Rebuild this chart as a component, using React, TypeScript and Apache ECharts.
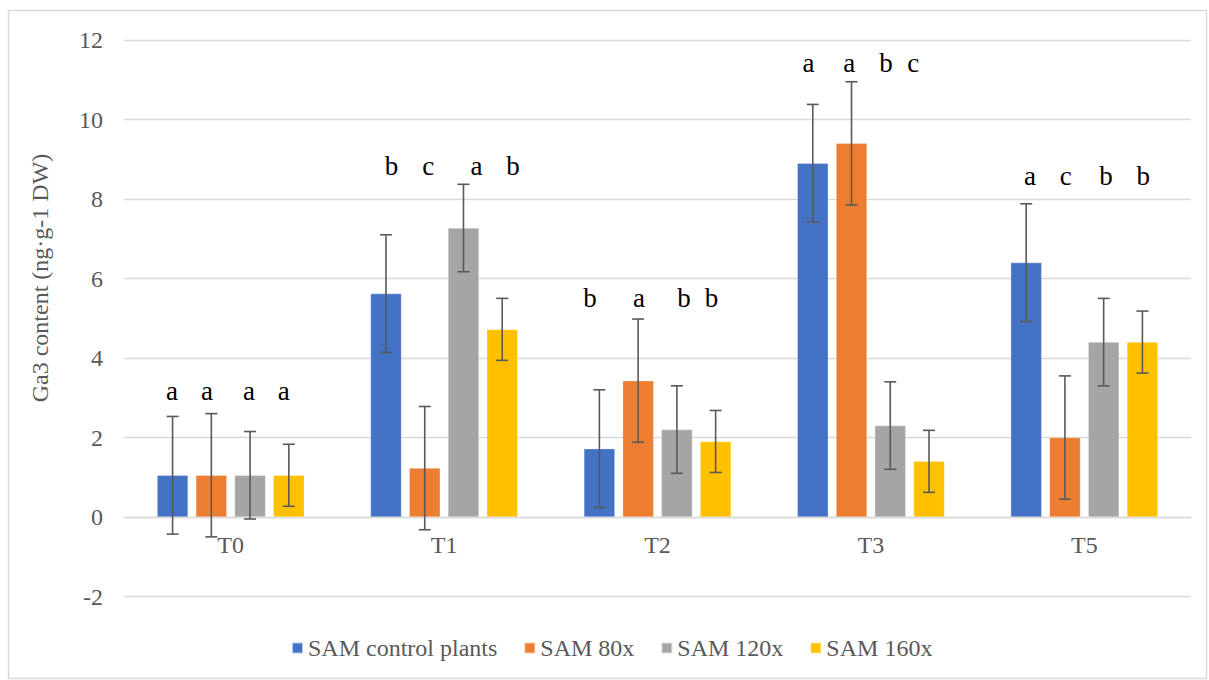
import React, { useEffect, useRef } from "react";
import * as echarts from "echarts";

const CATEGORIES = ["T0", "T1", "T2", "T3", "T5"];
const SERIES_NAMES = ["SAM control plants", "SAM 80x", "SAM 120x", "SAM 160x"];
const COLORS = ["#4472C4", "#ED7D31", "#A5A5A5", "#FFC000"];

const CONTROL = [1.05, 5.62, 1.72, 8.9, 6.4];
const X80 = [1.05, 1.23, 3.43, 9.4, 2.0];
const X120 = [1.05, 7.27, 2.2, 2.3, 4.4];
const X160 = [1.05, 4.72, 1.9, 1.4, 4.4];

const ERR_CONTROL = [1.48, 1.48, 1.48, 1.48, 1.48];
const ERR_80 = [1.55, 1.55, 1.55, 1.55, 1.55];
const ERR_120 = [1.1, 1.1, 1.1, 1.1, 1.1];
const ERR_160 = [0.78, 0.78, 0.78, 0.78, 0.78];

// significance letters, per series, per category
const LETTERS_CONTROL = ["a", "b", "b", "a", "a"];
const LETTERS_80 = ["a", "c", "a", "a", "c"];
const LETTERS_120 = ["a", "a", "b", "b", "b"];
const LETTERS_160 = ["a", "b", "b", "c", "b"];
// level (data units) of the top of the letters for each category
const LETTER_LEVEL = [3.52, 9.17, 5.85, 11.76, 8.92];
// small horizontal nudges (px) of each letter from its bar centre
const LETTER_DX = [
  [-0.5, 5.6, -9.3, -4.4, 3.9],
  [-4.3, 3.4, 0.9, -2.2, 0.8],
  [-1, 13, 7.1, -4.3, 2.3],
  [-5, 10.8, -4, -15.8, 0.8],
];

const Y_TICKS = { min: -2, max: 12, interval: 2 };
const Y_TITLE = "Ga3 content (ng·g-1 DW)";

const VALUES = [CONTROL, X80, X120, X160];
const ERRORS = [ERR_CONTROL, ERR_80, ERR_120, ERR_160];
const LETTERS = [LETTERS_CONTROL, LETTERS_80, LETTERS_120, LETTERS_160];

const CAT_GAP = 0.31;
const BAR_GAP = 0.25;
const FONT = "Liberation Serif";
const TEXT_COLOR = "#595959";

function barCenter(api: any, cat: number, s: number) {
  const center = api.coord([cat, 0])[0];
  const band = api.size([1, 0])[0];
  const n = VALUES.length;
  const w = (band * (1 - CAT_GAP)) / (n + (n - 1) * BAR_GAP);
  const pitch = w * (1 + BAR_GAP);
  return center + (s - (n - 1) / 2) * pitch;
}

export default function App() {
  const ref = useRef<HTMLDivElement>(null);
  useEffect(() => {
    if (!ref.current) return;
    const chart = echarts.init(ref.current, undefined, { renderer: "svg" });

    const errData: any[] = [];
    const letterData: any[] = [];
    VALUES.forEach((vals, s) => {
      vals.forEach((v, c) => {
        errData.push([c, v, s]);
        letterData.push([c, LETTER_LEVEL[c], s]);
      });
    });

    const barSeries = VALUES.map((vals, s) => ({
      name: SERIES_NAMES[s],
      type: "bar",
      data: vals,
      barGap: `${BAR_GAP * 100}%`,
      barCategoryGap: `${CAT_GAP * 100}%`,
      itemStyle: { color: COLORS[s], borderColor: "rgba(255,255,255,0.6)", borderWidth: 0.5 },
      z: 2,
    }));

    chart.setOption({
      animation: false,
      textStyle: { fontFamily: FONT },
      grid: { left: 124, right: 18, top: 40, bottom: 83.5, containLabel: false },
      legend: {
        data: SERIES_NAMES,
        left: 286,
        top: 631,
        icon: "rect",
        itemWidth: 11,
        itemHeight: 11,
        itemGap: 26,
        textStyle: { fontFamily: FONT, fontSize: 24, color: TEXT_COLOR },
      },
      xAxis: {
        type: "category",
        data: CATEGORIES,
        offset: -79.5,
        axisLine: { onZero: false, lineStyle: { color: "#d9d9d9", width: 1.3 } },
        axisTick: { show: false },
        axisLabel: { fontFamily: FONT, fontSize: 24, color: TEXT_COLOR, margin: 16 },
        splitLine: { show: false },
      },
      yAxis: {
        type: "value",
        min: Y_TICKS.min,
        max: Y_TICKS.max,
        interval: Y_TICKS.interval,
        axisLine: { show: false },
        axisTick: { show: false },
        axisLabel: { fontFamily: FONT, fontSize: 24, color: TEXT_COLOR, margin: 21 },
        splitLine: { lineStyle: { color: "#d9d9d9", width: 1.3 } },
      },
      graphic: [
        {
          type: "rect",
          shape: { x: 8.5, y: 10.5, width: 1198, height: 668 },
          style: { fill: "none", stroke: "#d9d9d9", lineWidth: 1.5 },
          silent: true,
        },
        {
          type: "text",
          x: 40,
          y: 278,
          rotation: Math.PI / 2,
          style: {
            text: Y_TITLE,
            fontFamily: FONT,
            fontSize: 24,
            fill: TEXT_COLOR,
            align: "center",
            verticalAlign: "middle",
          },
        },
      ],
      series: [
        ...barSeries,
        {
          type: "custom",
          name: "errors",
          data: errData,
          encode: { x: 0, y: 1 },
          z: 5,
          renderItem: (params: any, api: any) => {
            const c = api.value(0);
            const v = api.value(1);
            const s = api.value(2);
            const e = ERRORS[s][c];
            const x = barCenter(api, c, s);
            const yTop = api.coord([c, v + e])[1];
            const yBot = api.coord([c, v - e])[1];
            const st = { stroke: "#595959", lineWidth: 1.6 };
            return {
              type: "group",
              children: [
                { type: "line", shape: { x1: x, y1: yTop, x2: x, y2: yBot }, style: st },
                { type: "line", shape: { x1: x - 6, y1: yTop, x2: x + 6, y2: yTop }, style: st },
                { type: "line", shape: { x1: x - 6, y1: yBot, x2: x + 6, y2: yBot }, style: st },
              ],
            };
          },
        },
        {
          type: "custom",
          name: "letters",
          data: letterData,
          encode: { x: 0, y: 1 },
          z: 6,
          renderItem: (params: any, api: any) => {
            const c = api.value(0);
            const lvl = api.value(1);
            const s = api.value(2);
            const x = barCenter(api, c, s) + LETTER_DX[s][c];
            const y = api.coord([c, lvl])[1];
            return {
              type: "text",
              x,
              y,
              style: {
                text: LETTERS[s][c],
                fontFamily: FONT,
                fontSize: 27,
                fill: "#000",
                align: "center",
                verticalAlign: "top",
              },
            };
          },
        },
      ],
    });
    return () => chart.dispose();
  }, []);
  return (
    <div
      ref={ref}
      style={{ position: "absolute", left: 0, top: 0, width: 1209, height: 680 }}
    />
  );
}
